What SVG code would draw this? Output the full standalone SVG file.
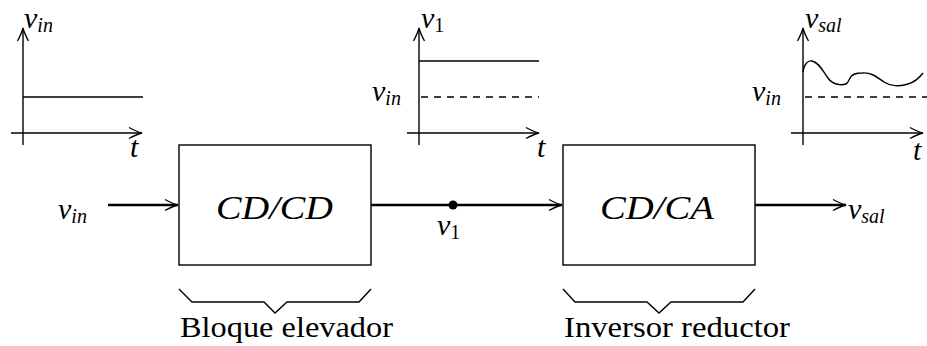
<svg xmlns="http://www.w3.org/2000/svg" width="927" height="346" viewBox="0 0 927 346">
<style>
.ax{stroke:#000;stroke-width:1.4;fill:none}
.ln{stroke:#000;stroke-width:1.4;fill:none}
.dash{stroke:#000;stroke-width:1.5;fill:none;stroke-dasharray:7 6}
.wire{stroke:#000;stroke-width:2.4;fill:none}
.box{stroke:#000;stroke-width:1.4;fill:#fff}
text{font-family:'Liberation Serif','Times New Roman',Tinos,'DejaVu Serif',serif;fill:#000}
.m{font-style:italic;font-size:30px}
.sub{font-size:20px}
.up{font-style:normal}
.big{font-style:italic;font-size:33px}
.rm{font-size:29px}
</style>
<defs>
<marker id="arr" viewBox="-15 -7 17 14" refX="0" refY="0" markerWidth="17" markerHeight="14" markerUnits="userSpaceOnUse" orient="auto" overflow="visible">
<path d="M-13,-5.5 Q-5,-1.2 0,0 Q-5,1.2 -13,5.5" fill="none" stroke="#000" stroke-width="1.3"/>
</marker>
</defs>

<g id="graph-vin">
<line class="ax" x1="23" y1="145" x2="23" y2="28" marker-end="url(#arr)"/>
<line class="ax" x1="11" y1="133" x2="142" y2="133" marker-end="url(#arr)"/>
<line class="ln" x1="23" y1="97" x2="143" y2="97"/>
<text class="m" x="24" y="28">v<tspan class="sub" dy="4">in</tspan></text>
<text class="m" x="130" y="157">t</text>
</g>

<g id="graph-v1">
<line class="ax" x1="419" y1="145" x2="419" y2="28" marker-end="url(#arr)"/>
<line class="ax" x1="407" y1="133" x2="539" y2="133" marker-end="url(#arr)"/>
<line class="ln" x1="419" y1="61" x2="539" y2="61"/>
<line class="dash" x1="421" y1="97" x2="539" y2="97"/>
<text class="m" x="421" y="28">v<tspan class="sub up" dy="4">1</tspan></text>
<text class="m" x="372" y="101">v<tspan class="sub" dy="4">in</tspan></text>
<text class="m" x="537" y="157">t</text>
</g>

<g id="graph-vsal">
<line class="ax" x1="803" y1="145" x2="803" y2="28" marker-end="url(#arr)"/>
<line class="ax" x1="791" y1="133" x2="923" y2="133" marker-end="url(#arr)"/>
<line class="dash" x1="805" y1="97" x2="927" y2="97"/>
<path class="ln" d="M803,72 C804,64 808,60 812,61 C820,63 823,72 828,78 C832,84 840,86 846,84 C848,83 849,80 850,78 C852,74 856,73 862,73 C872,72 878,78 884,82 C890,86 900,87 908,84 C915,82 920,77 923,73"/>
<text class="m" x="805" y="28">v<tspan class="sub" dy="4">sal</tspan></text>
<text class="m" x="752" y="101">v<tspan class="sub" dy="4">in</tspan></text>
<text class="m" x="913" y="160">t</text>
</g>

<g id="connectors">
<line class="wire" x1="108" y1="205" x2="178" y2="205" marker-end="url(#arr)"/>
<line class="wire" x1="371" y1="205" x2="562" y2="205" marker-end="url(#arr)"/>
<line class="wire" x1="755" y1="205" x2="846" y2="205" marker-end="url(#arr)"/>
<circle cx="453" cy="205" r="4.5" fill="#000"/>
</g>

<g id="label-vin">
<text class="m" x="58" y="219">v<tspan class="sub" dy="4">in</tspan></text>
</g>
<g id="label-v1">
<text class="m" x="437" y="235">v<tspan class="sub up" dy="4">1</tspan></text>
</g>
<g id="label-vsal">
<text class="m" x="848" y="219">v<tspan class="sub" dy="4">sal</tspan></text>
</g>

<g id="block-cdcd">
<rect class="box" x="179" y="145" width="192" height="120"/>
<text class="big" x="216" y="219" textLength="117" lengthAdjust="spacingAndGlyphs">CD/CD</text>
</g>

<g id="block-cdca">
<rect class="box" x="563" y="145" width="192" height="120"/>
<text class="big" x="600" y="219" textLength="114" lengthAdjust="spacingAndGlyphs">CD/CA</text>
</g>

<g id="brace-elevador">
<path class="ln" d="M179,289 L192,302 L264,302 L275,313 L287,302 L359,302 L371,289"/>
<text class="rm" x="180" y="337" textLength="213" lengthAdjust="spacingAndGlyphs">Bloque elevador</text>
</g>

<g id="brace-reductor">
<path class="ln" d="M563,289 L575,302 L647,302 L659,313 L671,302 L743,302 L755,289"/>
<text class="rm" x="564" y="337" textLength="226" lengthAdjust="spacingAndGlyphs">Inversor reductor</text>
</g>
</svg>
